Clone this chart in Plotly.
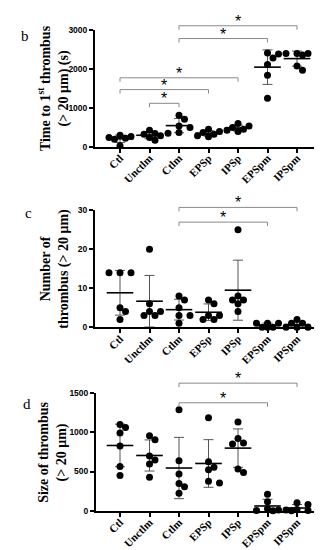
import numpy as np
import plotly.graph_objects as go

categories = ["Ctl", "Unctlm", "Ctlm", "EPSp", "IPSp", "EPSpm", "IPSpm"]

# Panel b: time to first thrombus (s)
time_first = [
    [290, 256, 230, 210, 190, 20],
    [420, 333, 316, 274, 230, 162],
    [803, 700, 530, 487, 360, 342],
    [444, 385, 360, 316, 274, 248],
    [590, 530, 487, 444, 420, 385],
    [2400, 2375, 2275, 2108, 1831, 1242],
    [2390, 2390, 2390, 2350, 2065, 1960],
]
# Panel c: number of thrombus
number_thrombus = [
    [14, 14, 14, 5, 4, 2],
    [20, 6, 4, 4, 3, 3],
    [8, 7, 5, 3, 3, 1],
    [7, 6, 3, 3, 2, 2],
    [25, 8, 7, 7, 6, 4],
    [1, 1, 1, 0, 0, 0],
    [2, 1, 1, 0, 0, 0],
]
# Panel d: size of thrombus
size_thrombus = [
    [1100, 1060, 990, 825, 565, 448],
    [955, 905, 698, 645, 595, 426],
    [1285, 636, 469, 347, 306, 223],
    [1184, 624, 554, 521, 376, 355],
    [1130, 921, 864, 851, 533, 488],
    [211, 116, 25, 10, 5, 0],
    [103, 79, 15, 10, 5, 0],
]

b_ticks = [0, 1000, 2000, 3000]
c_ticks = [0, 10, 20, 30]
d_ticks = [0, 500, 1000, 1500]

b_pairs = [("Ctlm", "IPSpm"), ("Ctlm", "EPSpm"), ("Ctl", "IPSp"), ("Ctl", "EPSp"), ("Unctlm", "Ctlm")]
c_pairs = [("Ctlm", "IPSpm"), ("Ctlm", "EPSpm")]
d_pairs = [("Ctlm", "IPSpm"), ("Ctlm", "EPSpm")]

W, H = 322, 550
SERIF = "Liberation Serif"
SANS = "Liberation Sans"
CAT_PX = 29.5
DIAM = 7


def beeswarm(vals, px_per_unit, step=5.5, thresh=6.0, maxcol=2):
    order = sorted(range(len(vals)), key=lambda i: -vals[i])
    placed = []
    offs = [0.0] * len(vals)
    cands = [0]
    for s in range(1, maxcol + 1):
        cands += [s, -s]
    for i in order:
        y = vals[i] * px_per_unit
        best, best_d = None, -1
        chosen = None
        for c in cands:
            x = c * step
            d = min([((x - px) ** 2 + (y - py) ** 2) ** 0.5 for px, py in placed] or [99])
            if d >= thresh:
                chosen = x
                break
            if d > best_d:
                best, best_d = x, d
        if chosen is None:
            chosen = best
        placed.append((chosen, y))
        offs[i] = chosen / CAT_PX
    return offs


panels = [
    dict(data=time_first, ticks=b_ticks, rng=[0, 3000], top=17, bot=136, left=87, right=307,
         pairs=b_pairs, bracket_px=[13, 26, 66, 78, 92], letter="b", letter_pos=(17, 23),
         title="Time to 1<sup>st</sup> thrombus<br>(> 20 μm) (s)", title_x=45),
    dict(data=number_thrombus, ticks=c_ticks, rng=[0, 30], top=201, bot=320, left=87, right=306,
         pairs=c_pairs, bracket_px=[198, 213], letter="c", letter_pos=(20, 204),
         title="Number of<br>thrombus (> 20 μm)", title_x=47),
    dict(data=size_thrombus, ticks=d_ticks, rng=[0, 1500], top=387, bot=507, left=88, right=306,
         pairs=d_pairs, bracket_px=[377, 397], letter="d", letter_pos=(19, 398),
         title="Size of thrombus<br>(> 20 μm)", title_x=45),
]

fig = go.Figure()
shapes = []
annotations = []
layout_axes = {}

for k, p in enumerate(panels):
    n = k + 1
    xa = "x" if n == 1 else f"x{n}"
    ya = "y" if n == 1 else f"y{n}"
    dom_y = [1 - p["bot"] / H, 1 - p["top"] / H]
    dom_x = [p["left"] / W, p["right"] / W]
    x0 = -(112 - p["left"]) / CAT_PX
    x1 = (p["right"] - 112) / CAT_PX
    px_per_unit = (p["bot"] - p["top"]) / (p["rng"][1] - p["rng"][0])

    xs, ys = [], []
    means, sds = [], []
    for i, vals in enumerate(p["data"]):
        offs = beeswarm(vals, px_per_unit)
        xs += [i + o for o in offs]
        ys += list(vals)
        means.append(float(np.mean(vals)))
        sds.append(float(np.std(vals, ddof=1)))

    fig.add_trace(go.Scatter(
        x=list(range(len(categories))), y=means, mode="markers", xaxis=xa, yaxis=ya,
        marker=dict(symbol="line-ew", size=19, line=dict(color="black", width=1.6)),
        error_y=dict(type="data", array=sds, visible=True, color="#555555", thickness=1, width=5),
        cliponaxis=False, showlegend=False, hoverinfo="skip"))
    fig.add_trace(go.Scatter(
        x=xs, y=ys, mode="markers", xaxis=xa, yaxis=ya,
        marker=dict(size=DIAM, color="black"), cliponaxis=False, showlegend=False))

    xkey = "xaxis" if n == 1 else f"xaxis{n}"
    ykey = "yaxis" if n == 1 else f"yaxis{n}"
    layout_axes[xkey] = dict(
        domain=dom_x, range=[x0, x1], anchor=ya, tickvals=list(range(len(categories))),
        ticktext=categories, tickangle=-45, ticks="outside", ticklen=4, tickwidth=1.5,
        tickcolor="black", showline=True, linewidth=2, linecolor="black", showgrid=False,
        zeroline=False, tickfont=dict(family=SERIF, size=11, color="black", weight="bold"),
        ticklabelstandoff=-5, fixedrange=True)
    layout_axes[ykey] = dict(
        domain=dom_y, range=p["rng"], anchor=xa, tickvals=p["ticks"], ticks="outside",
        ticklen=4, tickwidth=1.5, tickcolor="black", showline=True, linewidth=2,
        linecolor="black", showgrid=False, zeroline=False,
        tickfont=dict(family=SANS, size=8.5, color="black", weight="bold"), fixedrange=True)

    for (a, b), bpx in zip(p["pairs"], p["bracket_px"]):
        ia, ib = categories.index(a), categories.index(b)
        yb = 1 - bpx / H
        ytk = 1 - (bpx + 4) / H
        shapes.append(dict(type="path", xref=xa, yref="paper",
                           path=f"M {ia},{ytk} L {ia},{yb} L {ib},{yb} L {ib},{ytk}",
                           line=dict(color="#8a8a8a", width=1)))
        annotations.append(dict(x=(ia + ib) / 2, y=yb, xref=xa, yref="paper", text="*",
                                showarrow=False, xanchor="center", yanchor="bottom", yshift=-6,
                                font=dict(family=SANS, size=16, color="black")))

    lx, ly = p["letter_pos"]
    annotations.append(dict(x=lx / W, y=1 - ly / H, xref="paper", yref="paper", text=p["letter"],
                            showarrow=False, xanchor="center", yanchor="middle",
                            font=dict(family=SERIF, size=15, color="black")))
    annotations.append(dict(x=p["title_x"] / W, y=(dom_y[0] + dom_y[1]) / 2, xref="paper",
                            yref="paper", text=p["title"], textangle=-90, showarrow=False,
                            xanchor="center", yanchor="middle",
                            font=dict(family=SERIF, size=14, color="black", weight="bold")))

fig.update_layout(
    width=W, height=H, margin=dict(l=0, r=0, t=0, b=0),
    paper_bgcolor="white", plot_bgcolor="white",
    shapes=shapes, annotations=annotations, **layout_axes)

fig.write_html("out.html", config={"displayModeBar": False})
